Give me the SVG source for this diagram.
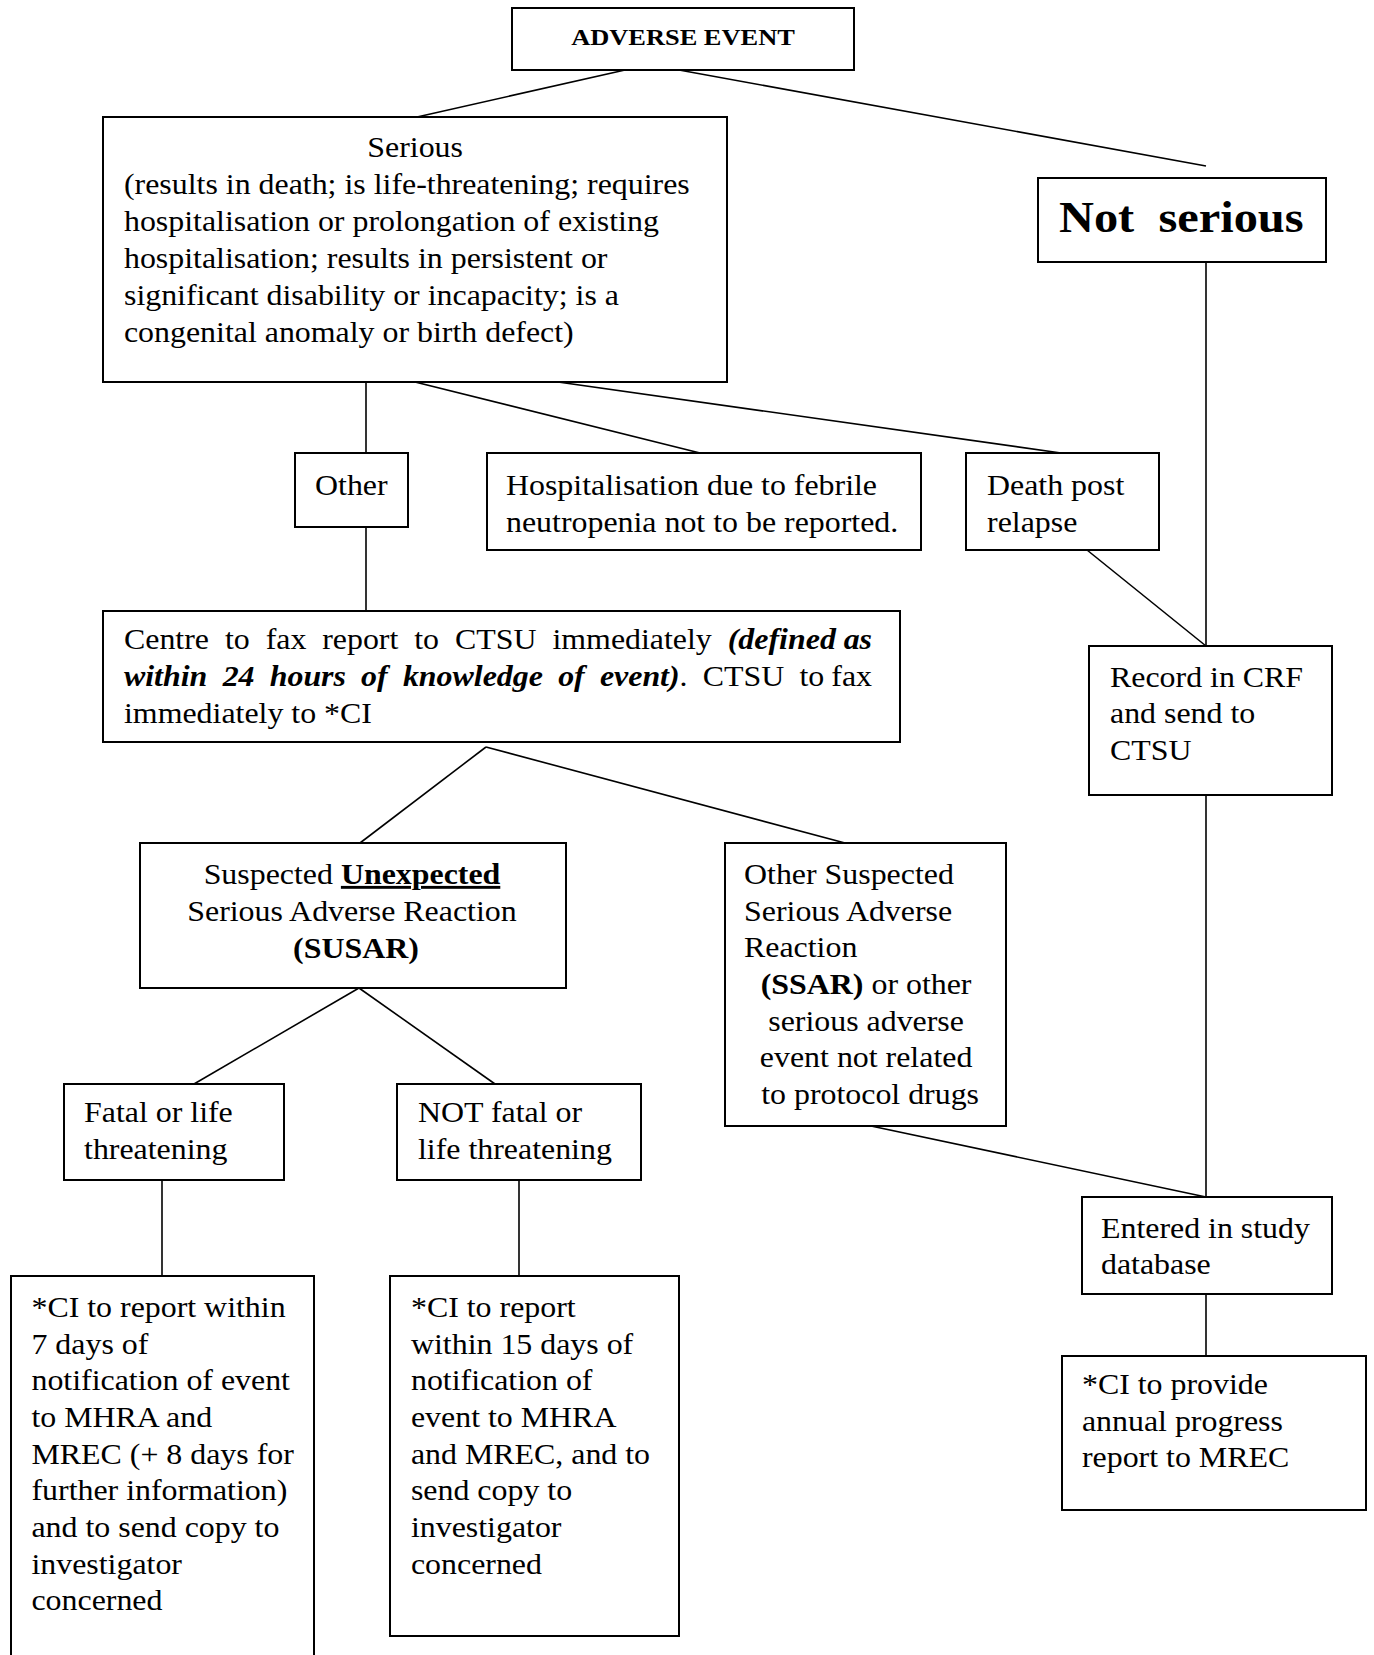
<svg xmlns="http://www.w3.org/2000/svg" width="1374" height="1655" viewBox="0 0 1374 1655">
<style>
.box{fill:#fff;stroke:#000;stroke-width:2}
.c line{stroke:#000;stroke-width:1.6;fill:none}
text{font-family:"Liberation Serif","Times New Roman",serif;font-size:29px;fill:#000}
.b{font-weight:bold}
.bi{font-weight:bold;font-style:italic}
.m{text-anchor:middle}
</style>
<rect width="1374" height="1655" fill="#fff"/>
<g class="c" id="connectors">
<line x1="625" y1="70" x2="417" y2="117"/>
<line x1="679" y1="70" x2="1206" y2="166"/>
<line x1="1206" y1="238" x2="1206" y2="646"/>
<line x1="366" y1="382" x2="366" y2="453"/>
<line x1="415" y1="382" x2="700" y2="453"/>
<line x1="558" y1="382" x2="1061" y2="453"/>
<line x1="1087" y1="550" x2="1206" y2="646"/>
<line x1="366" y1="527" x2="366" y2="622"/>
<line x1="486" y1="747" x2="360" y2="843"/>
<line x1="486" y1="747" x2="845" y2="843"/>
<line x1="1206" y1="790" x2="1206" y2="1197"/>
<line x1="359" y1="988" x2="194" y2="1084"/>
<line x1="359" y1="988" x2="495" y2="1084"/>
<line x1="871" y1="1126" x2="1206" y2="1197"/>
<line x1="162" y1="1180" x2="162" y2="1276"/>
<line x1="519" y1="1180" x2="519" y2="1276"/>
<line x1="1206" y1="1294" x2="1206" y2="1367"/>
</g>
<g id="adverse-event">
<rect class="box" x="512" y="8" width="342" height="62"/>
<text class="b m" transform="scale(1.1,1)" x="620.9" y="45" style="font-size:24px">ADVERSE EVENT</text>
</g>
<g id="serious">
<rect class="box" x="103" y="117" width="624" height="265"/>
<text transform="scale(1.1,1)">
<tspan class="m" x="381" y="157">Serious</tspan>
<tspan x="112.7" y="194">(results in death; is life-threatening; requires</tspan>
<tspan x="112.7" y="231">hospitalisation or prolongation of existing</tspan>
<tspan x="112.7" y="268">hospitalisation; results in persistent or</tspan>
<tspan x="112.7" y="305">significant disability or incapacity; is a</tspan>
<tspan x="112.7" y="342">congenital anomaly or birth defect)</tspan>
</text>
</g>
<g id="not-serious">
<rect class="box" x="1038" y="178" width="288" height="84"/>
<text class="b" transform="scale(1.1,1)" x="962.7" y="232" style="font-size:44px">Not&#160; serious</text>
</g>
<g id="other">
<rect class="box" x="295" y="453" width="113" height="74"/>
<text transform="scale(1.1,1)" x="286.4" y="495">Other</text>
</g>
<g id="hospitalisation">
<rect class="box" x="487" y="453" width="434" height="97"/>
<text transform="scale(1.1,1)"><tspan x="460" y="495">Hospitalisation due to febrile</tspan><tspan x="460" y="532">neutropenia not to be reported.</tspan></text>
</g>
<g id="death-post-relapse">
<rect class="box" x="966" y="453" width="193" height="97"/>
<text transform="scale(1.1,1)"><tspan x="897.3" y="495">Death post</tspan><tspan x="897.3" y="532">relapse</tspan></text>
</g>
<g id="centre-fax">
<rect class="box" x="103" y="611" width="797" height="131"/>
<text transform="scale(1.1,1)">
<tspan x="112.7" y="649">Centre</tspan><tspan x="204.5" y="649">to</tspan><tspan x="241.5" y="649">fax</tspan><tspan x="292.9" y="649">report</tspan><tspan x="376.6" y="649">to</tspan><tspan x="413.6" y="649">CTSU</tspan><tspan x="502.2" y="649">immediately</tspan><tspan class="bi" x="800" y="649" text-anchor="end">as</tspan>
<tspan class="bi" x="112.7" y="686">within</tspan><tspan class="bi" x="202.4" y="686">24</tspan><tspan class="bi" x="245.2" y="686">hours</tspan><tspan class="bi" x="328.3" y="686">of</tspan><tspan class="bi" x="366.3" y="686">knowledge</tspan><tspan class="bi" x="507.4" y="686">of</tspan><tspan class="bi" x="545.4" y="686">event)</tspan><tspan>.</tspan><tspan x="638.9" y="686">CTSU</tspan><tspan x="726.8" y="686">to</tspan><tspan x="800" y="686" text-anchor="end">fax</tspan>
<tspan x="112.7" y="723">immediately to *CI</tspan>
</text>
<text class="bi" transform="scale(1.1,1)" x="661.6" y="649" textLength="98.3" lengthAdjust="spacingAndGlyphs">(defined</text>
</g>
<g id="record-crf">
<rect class="box" x="1089" y="646" width="243" height="149"/>
<text transform="scale(1.1,1)"><tspan x="1009.1" y="687">Record in CRF</tspan><tspan x="1009.1" y="723">and send to</tspan><tspan x="1009.1" y="760">CTSU</tspan></text>
</g>
<g id="susar">
<rect class="box" x="140" y="843" width="426" height="145"/>
<text class="m" transform="scale(1.1,1)">
<tspan x="323.6" y="884">Suspected <tspan class="b" text-decoration="underline">Unexpected</tspan></tspan>
<tspan x="323.6" y="921">Serious Adverse Reaction</tspan>
<tspan class="b" x="323.6" y="958">(SUSAR)</tspan>
</text>
</g>
<g id="ssar">
<rect class="box" x="725" y="843" width="281" height="283"/>
<text transform="scale(1.1,1)">
<tspan x="676.4" y="884">Other Suspected</tspan>
<tspan x="676.4" y="921">Serious Adverse</tspan>
<tspan x="676.4" y="957">Reaction</tspan>
<tspan class="m" x="791" y="994"><tspan class="b">(SSAR)</tspan> or other</tspan>
<tspan class="m" x="791" y="1031">serious adverse</tspan>
<tspan class="m" x="791" y="1067">event not related</tspan>
<tspan class="m" x="791" y="1104">to protocol drugs</tspan>
</text>
</g>
<g id="fatal">
<rect class="box" x="64" y="1084" width="220" height="96"/>
<text transform="scale(1.1,1)"><tspan x="76.4" y="1122">Fatal or life</tspan><tspan x="76.4" y="1159">threatening</tspan></text>
</g>
<g id="not-fatal">
<rect class="box" x="397" y="1084" width="244" height="96"/>
<text transform="scale(1.1,1)"><tspan x="380" y="1122">NOT fatal or</tspan><tspan x="380" y="1159">life threatening</tspan></text>
</g>
<g id="entered-db">
<rect class="box" x="1082" y="1197" width="250" height="97"/>
<text transform="scale(1.1,1)"><tspan x="1000.9" y="1238">Entered in study</tspan><tspan x="1000.9" y="1274">database</tspan></text>
</g>
<g id="ci-7-days">
<rect class="box" x="11" y="1276" width="303" height="420"/>
<text transform="scale(1.1,1)">
<tspan x="28.6" y="1317">*CI to report within</tspan>
<tspan x="28.6" y="1354">7 days of</tspan>
<tspan x="28.6" y="1390">notification of event</tspan>
<tspan x="28.6" y="1427">to MHRA and</tspan>
<tspan x="28.6" y="1464">MREC (+ 8 days for</tspan>
<tspan x="28.6" y="1500">further information)</tspan>
<tspan x="28.6" y="1537">and to send copy to</tspan>
<tspan x="28.6" y="1574">investigator</tspan>
<tspan x="28.6" y="1610">concerned</tspan>
</text>
</g>
<g id="ci-15-days">
<rect class="box" x="390" y="1276" width="289" height="360"/>
<text transform="scale(1.1,1)">
<tspan x="373.6" y="1317">*CI to report</tspan>
<tspan x="373.6" y="1354">within 15 days of</tspan>
<tspan x="373.6" y="1390">notification of</tspan>
<tspan x="373.6" y="1427">event to MHRA</tspan>
<tspan x="373.6" y="1464">and MREC, and to</tspan>
<tspan x="373.6" y="1500">send copy to</tspan>
<tspan x="373.6" y="1537">investigator</tspan>
<tspan x="373.6" y="1574">concerned</tspan>
</text>
</g>
<g id="annual-report">
<rect class="box" x="1062" y="1356" width="304" height="154"/>
<text transform="scale(1.1,1)"><tspan x="983.6" y="1394">*CI to provide</tspan><tspan x="983.6" y="1431">annual progress</tspan><tspan x="983.6" y="1467">report to MREC</tspan></text>
</g>
</svg>
